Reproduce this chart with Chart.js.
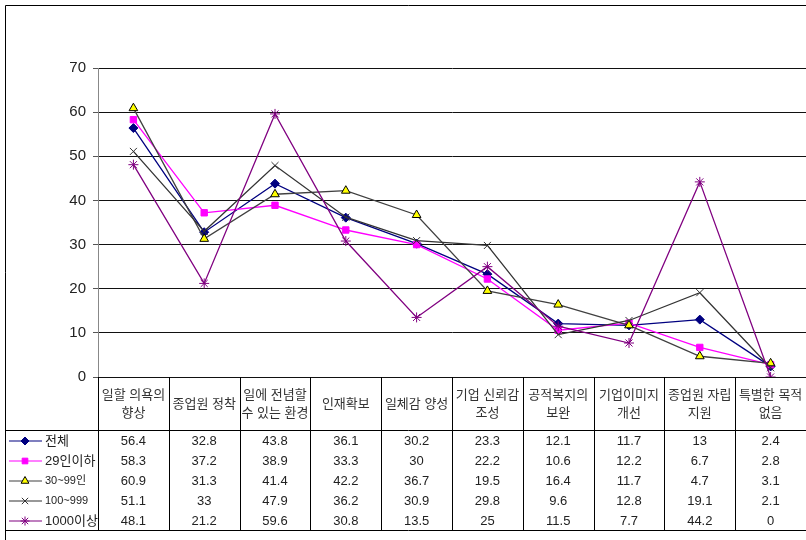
<!DOCTYPE html>
<html>
<head>
<meta charset="utf-8">
<script src="https://cdn.jsdelivr.net/npm/chart.js@4.4.1/dist/chart.umd.min.js"></script>
<style>
    html, body { margin: 0; padding: 0; background: #fff; overflow: hidden; }
    #wrap { position: relative; width: 812px; height: 540px; }
</style>
</head>
<body>
<div id="wrap"><canvas id="purposeChart" width="812" height="540"></canvas></div>
<script>
// 목적별 응답 비율 (%)
const categories = [
    ['일할 의욕의', '향상'],
    ['종업원 정착'],
    ['일에 전념할', '수 있는 환경'],
    ['인재확보'],
    ['일체감 양성'],
    ['기업 신뢰감', '조성'],
    ['공적복지의', '보완'],
    ['기업이미지', '개선'],
    ['종업원 자립', '지원'],
    ['특별한 목적', '없음']
];
const seriesNames = ['전체', '29인이하', '30~99인', '100~999', '1000이상'];
const totalValues = [56.4, 32.8, 43.8, 36.1, 30.2, 23.3, 12.1, 11.7, 13, 2.4];
const under29Values = [58.3, 37.2, 38.9, 33.3, 30, 22.2, 10.6, 12.2, 6.7, 2.8];
const size30to99Values = [60.9, 31.3, 41.4, 42.2, 36.7, 19.5, 16.4, 11.7, 4.7, 3.1];
const size100to999Values = [51.1, 33, 47.9, 36.2, 30.9, 29.8, 9.6, 12.8, 19.1, 2.1];
const over1000Values = [48.1, 21.2, 59.6, 30.8, 13.5, 25, 11.5, 7.7, 44.2, 0];
const yTicks = [0, 10, 20, 30, 40, 50, 60, 70];

// 계열별 스타일
const seriesStyles = [
    { line: '#000080', fill: '#000080', stroke: '#000080', point: 'rectRot', radius: 4.5 },
    { line: '#ff00ff', fill: '#ff00ff', stroke: '#ff00ff', point: 'rect', radius: 4.5 },
    { line: '#404040', fill: '#ffff00', stroke: '#000000', point: 'triangle', radius: 5 },
    { line: '#333333', fill: '#333333', stroke: '#333333', point: 'crossRot', radius: 5 },
    { line: '#800080', fill: '#800080', stroke: '#800080', point: 'star', radius: 5 }
];
const seriesValues = [totalValues, under29Values, size30to99Values, size100to999Values, over1000Values];

const TABLE_TOP = 377;
const HEADER_BOTTOM = 430;
const ROW_H = 20;
const FRAME = 5;
const KR_FONT = '"Liberation Sans", "Noto Sans CJK KR", sans-serif';

// 차트 아래 데이터 표와 바깥 테두리
const dataTablePlugin = {
    id: 'dataTable',
    afterDraw(chart) {
        const ctx = chart.ctx;
        const xs = chart.scales.x;
        const area = chart.chartArea;
        const colW = (area.right - area.left) / categories.length;
        const tableBottom = HEADER_BOTTOM + ROW_H * seriesNames.length;

        ctx.save();
        ctx.strokeStyle = '#000';
        ctx.lineWidth = 1;

        // 바깥 테두리
        ctx.beginPath();
        ctx.moveTo(FRAME + 0.5, chart.height);
        ctx.lineTo(FRAME + 0.5, FRAME + 0.5);
        ctx.lineTo(chart.width, FRAME + 0.5);
        ctx.stroke();

        // 표 가로선
        ctx.beginPath();
        [HEADER_BOTTOM, tableBottom].forEach(y => {
            ctx.moveTo(FRAME, y + 0.5);
            ctx.lineTo(chart.width, y + 0.5);
        });
        // 표 세로선
        for (let i = 0; i <= categories.length; i++) {
            const x = Math.round(area.left + i * colW) + 0.5;
            ctx.moveTo(x, TABLE_TOP);
            ctx.lineTo(x, tableBottom);
        }
        ctx.stroke();

        ctx.textAlign = 'center';
        ctx.textBaseline = 'middle';
        ctx.fillStyle = '#333';
        ctx.font = '13px ' + KR_FONT;

        // 항목명 (머리글)
        categories.forEach((lines, i) => {
            const cx = xs.getPixelForValue(i);
            const mid = (TABLE_TOP + HEADER_BOTTOM) / 2 + 1;
            if (lines.length === 1) {
                ctx.fillText(lines[0], cx, mid);
            } else {
                ctx.fillText(lines[0], cx, mid - 9);
                ctx.fillText(lines[1], cx, mid + 9);
            }
        });

        // 계열별 행
        seriesNames.forEach((name, r) => {
            const cy = HEADER_BOTTOM + ROW_H * r + ROW_H / 2 + 1;
            const st = seriesStyles[r];

            // 범례 기호
            ctx.strokeStyle = st.line;
            ctx.lineWidth = 1.2;
            ctx.beginPath();
            ctx.moveTo(9, cy);
            ctx.lineTo(42, cy);
            ctx.stroke();
            ctx.fillStyle = st.fill;
            ctx.strokeStyle = st.stroke;
            ctx.lineWidth = 1;
            Chart.helpers.drawPoint(ctx, { pointStyle: st.point, radius: st.radius - 0.5, rotation: 0, borderWidth: 1 }, 25, cy);

            ctx.fillStyle = '#222';
            ctx.textAlign = 'left';
            ctx.font = (r === 2 || r === 3 ? '11px ' : '13px ') + KR_FONT;
            ctx.fillText(name, 45, cy);

            ctx.textAlign = 'center';
            ctx.font = '13px ' + KR_FONT;
            seriesValues[r].forEach((v, i) => {
                ctx.fillText(String(v), xs.getPixelForValue(i), cy);
            });
        });
        ctx.restore();
    }
};

// 뒤 계열이 위에 그려지도록 order 지정
const datasets = seriesNames.map((name, i) => ({
    label: name,
    data: seriesValues[i],
    order: seriesNames.length - i,
    borderColor: seriesStyles[i].line,
    borderWidth: 1.3,
    pointStyle: seriesStyles[i].point,
    pointRadius: seriesStyles[i].radius,
    pointBackgroundColor: seriesStyles[i].fill,
    pointBorderColor: seriesStyles[i].stroke,
    pointBorderWidth: 1,
    tension: 0,
    fill: false
}));

new Chart(document.getElementById('purposeChart').getContext('2d'), {
    type: 'line',
    data: {
        labels: categories.map(c => c.join(' ')),
        datasets: datasets
    },
    options: {
        responsive: false,
        animation: false,
        layout: { padding: { left: 0, top: 68, right: 3, bottom: 540 - TABLE_TOP } },
        plugins: {
            legend: { display: false },
            tooltip: { enabled: false }
        },
        scales: {
            x: {
                type: 'category',
                offset: true,
                display: false
            },
            y: {
                min: 0,
                max: 70,
                afterBuildTicks(scale) {
                    scale.ticks = yTicks.map(v => ({ value: v }));
                },
                afterFit(scale) {
                    scale.width = 98;
                },
                grid: {
                    color: '#111',
                    lineWidth: 1,
                    tickLength: 5,
                    tickColor: '#555'
                },
                border: { color: '#888', width: 1 },
                ticks: {
                    padding: 7,
                    color: '#222',
                    font: { family: '"Liberation Sans", Arial, sans-serif', size: 15 }
                }
            }
        }
    },
    plugins: [dataTablePlugin]
});
</script>
</body>
</html>
